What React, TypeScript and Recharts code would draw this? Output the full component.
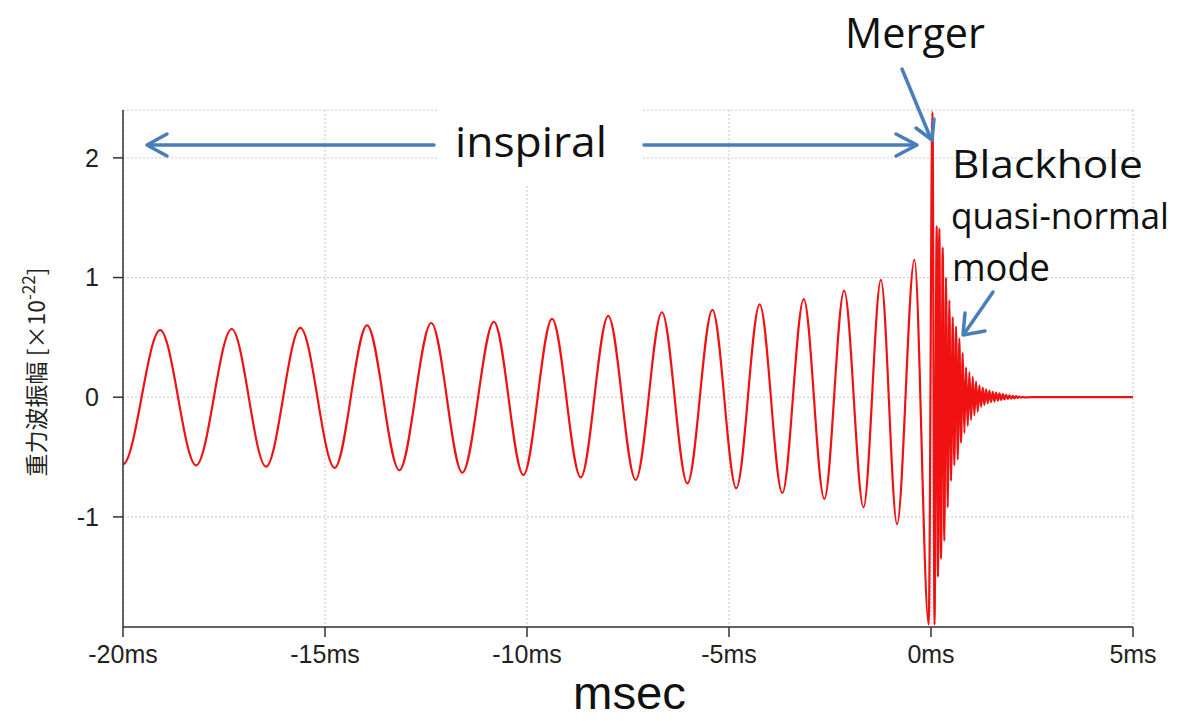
import React from "react"
import { LineChart, Line, XAxis, YAxis, CartesianGrid } from "recharts"

// turning points of the waveform: time [ms], strain [x10^-22]
// (the first point lies just left of the axis so the curve enters flat at its trough)
const inspiralTimes = [
  -20.3, -20.0, -19.08, -18.19, -17.31, -16.46, -15.61, -14.76, -13.96, -13.16, -12.37,
  -11.6, -10.82, -10.09, -9.38, -8.67, -7.99, -7.31, -6.66, -6.03, -5.41,
  -4.82, -4.24, -3.68, -3.15, -2.64, -2.15, -1.67, -1.24, -0.84, -0.41,
]
const inspiralValues = [
  -0.45, -0.56, 0.56, -0.57, 0.57, -0.58, 0.58, -0.59, 0.6, -0.61, 0.62,
  -0.63, 0.63, -0.65, 0.655, -0.67, 0.68, -0.69, 0.71, -0.72, 0.73,
  -0.76, 0.775, -0.8, 0.82, -0.85, 0.89, -0.92, 0.98, -1.06, 1.15,
]

const mergerTimes = [-0.057, 0.037, 0.087]
const mergerValues = [-1.9, 2.38, -1.9]

const ringdownTimes = [
  0.141, 0.173, 0.206, 0.248, 0.29, 0.33, 0.372, 0.414, 0.454, 0.496,
  0.538, 0.577, 0.62, 0.662, 0.701, 0.743, 0.786, 0.825, 0.867, 0.91,
  0.949, 0.991, 1.033, 1.073, 1.115, 1.157, 1.197, 1.239, 1.281, 1.321,
  1.363, 1.405, 1.445, 1.487, 1.529, 1.569, 1.611, 1.653, 1.693, 1.735,
  1.777, 1.817, 1.859, 1.901, 1.941, 1.983, 2.025, 2.064, 2.107, 2.149,
  2.188, 2.23, 2.272, 2.312,
]
const ringdownValues = [
  1.43, -1.5, 1.41, -1.35, 1.25, -1.2, 1.0, -0.92, 0.81, -0.7,
  0.67, -0.57, 0.59, -0.52, 0.49, -0.38, 0.37, -0.3, 0.25, -0.24,
  0.21, -0.19, 0.17, -0.15, 0.13, -0.12, 0.1, -0.08, 0.08, -0.065,
  0.065, -0.05, 0.055, -0.04, 0.045, -0.034, 0.038, -0.028, 0.032, -0.023,
  0.026, -0.019, 0.02, -0.015, 0.016, -0.012, 0.012, -0.009, 0.009, -0.006,
  0.006, -0.004, 0.004, -0.002,
]

const tailTimes = [2.478, 5]
const tailValues = [0, 0]

const xTicks = [-20, -15, -10, -5, 0, 5]
const yTicks = [-1, 0, 1, 2]

const times = [...inspiralTimes, ...mergerTimes, ...ringdownTimes, ...tailTimes]
const values = [...inspiralValues, ...mergerValues, ...ringdownValues, ...tailValues]
const data = times.map((t, i) => ({ t, h: values[i] }))

const BLUE = "#4a7ebb"
const tickFont = { fontFamily: "'Liberation Sans', Arial, sans-serif", fontSize: 25, fill: "#222" }
const noteFont = "'Open Sans', 'Noto Sans', sans-serif"

export default function App() {
  return (
    <div style={{ position: "absolute", left: 0, top: 0, width: 1182, height: 721, background: "#fff" }}>
      <LineChart width={1182} height={721} data={data} margin={{ top: 110, right: 49, bottom: 64, left: 63 }}>
        <CartesianGrid stroke="#c8c8c8" strokeDasharray="2 2" />
        <XAxis
          dataKey="t"
          type="number"
          domain={[-20, 5]}
          allowDataOverflow
          ticks={xTicks}
          tickFormatter={(v: number) => `${v}ms`}
          height={30}
          axisLine={{ stroke: "#333", strokeWidth: 1.5 }}
          tickLine={{ stroke: "#333", strokeWidth: 1.5 }}
          tickSize={10}
          tickMargin={8}
          tick={tickFont}
        />
        <YAxis
          type="number"
          domain={[-1.92, 2.4]}
          allowDataOverflow
          ticks={yTicks}
          width={60}
          axisLine={{ stroke: "#333", strokeWidth: 1.5 }}
          tickLine={{ stroke: "#333", strokeWidth: 1.5 }}
          tickSize={10}
          tickMargin={14}
          tick={tickFont}
        />
        <Line type="monotone" dataKey="h" stroke="#f01212" strokeWidth={2.2} dot={false} isAnimationActive={false} />
      </LineChart>

      <svg width={1182} height={721} style={{ position: "absolute", left: 0, top: 0, pointerEvents: "none" }}>
        <rect x={437} y={100} width={204} height={86} fill="#fff" />
        <text
          transform="translate(45 372) rotate(-90)"
          textAnchor="middle"
          fontFamily="'Noto Sans CJK JP', sans-serif"
          fontSize={23}
          fill="#222"
        >
          重力波振幅 [×10
          <tspan fontSize={17} dy={-10}>-22</tspan>
          <tspan dy={10}>]</tspan>
        </text>

        <g stroke={BLUE} strokeWidth={3.5} fill="none" strokeLinecap="round" strokeLinejoin="round">
          <line x1={434} y1={145} x2={148} y2={145} />
          <polyline points="167,134 147,145 167,156" />
          <line x1={644} y1={145} x2={915} y2={145} />
          <polyline points="896,134 917,145 896,156" />
          <line x1={902} y1={69} x2={931} y2={139} />
          <polyline points="916,128 932,140 934,119" />
          <line x1={993} y1={292} x2={964} y2={334} />
          <polyline points="965,313 963,335 985,331" />
        </g>

        <g fontFamily={noteFont} fill="#111">
          <text x={455} y={157} fontSize={42} textLength={152} lengthAdjust="spacingAndGlyphs">inspiral</text>
          <text x={845} y={48} fontSize={42} textLength={140} lengthAdjust="spacingAndGlyphs">Merger</text>
          <text x={952} y={178} fontSize={38} textLength={191} lengthAdjust="spacingAndGlyphs">Blackhole</text>
          <text x={951} y={229} fontSize={36} textLength={218} lengthAdjust="spacingAndGlyphs">quasi-normal</text>
          <text x={952} y={281} fontSize={38} textLength={98} lengthAdjust="spacingAndGlyphs">mode</text>
        </g>
        <text
          x={573}
          y={709}
          fontFamily="'Liberation Sans', Arial, sans-serif"
          fontSize={46}
          fill="#111"
          textLength={113}
          lengthAdjust="spacingAndGlyphs"
        >
          msec
        </text>
      </svg>
    </div>
  )
}
